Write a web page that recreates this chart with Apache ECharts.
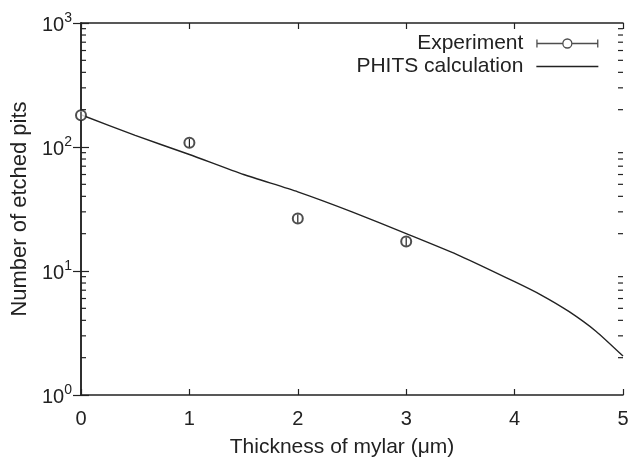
<!DOCTYPE html>
<html>
<head>
<meta charset="utf-8">
<script src="https://cdn.jsdelivr.net/npm/echarts@6/dist/echarts.min.js"></script>
<style>
  html, body { margin: 0; padding: 0; background: #fff; }
  #main { width: 633px; height: 458px; }
</style>
</head>
<body>
<div id="main"></div>
<script>
// experiment points
const expX = [0, 1, 2, 3];
const expY = [180, 108, 26.5, 17.3];
const expErr = [12, 8, 2, 1.3];

// PHITS calculation curve
const calcX = [0, 0.5, 1, 1.5, 2, 2.5, 3, 3.5, 4, 4.25, 4.5, 4.75, 5];
const calcY = [182, 124, 87, 60, 43.5, 30, 20, 13.2, 8.2, 6.37, 4.72, 3.27, 2.06];

const xMin = 0, xMax = 5;
const yMin = 1, yMax = 1000;

const font = 'Liberation Sans, Arial, Helvetica, sans-serif';

// minor log ticks 2..9 in each decade
let minorTicks = [];
for (let d = yMin; d < yMax; d *= 10) {
  for (let k = 2; k <= 9; k++) minorTicks.push([xMin, d * k]);
}

const expData = expX.map((x, i) => [x, expY[i]]);
const errData = expX.map((x, i) => [x, expY[i] - expErr[i], expY[i] + expErr[i]]);
const calcData = calcX.map((x, i) => [x, calcY[i]]);

// legend icons, stroked (62 x 10 box)
const expIcon = 'path://M0.6,1L0.6,9M0.6,5L26.5,5M35.5,5L61.4,5M61.4,1L61.4,9' +
  'M26.5,5A4.5,4.5 0 1,1 35.5,5A4.5,4.5 0 1,1 26.5,5Z M0,0L0,0M62,10L62,10';
const calcIcon = 'path://M0,0L0,0M0,5L62,5M62,10L62,10';

const axisLine = { show: true, lineStyle: { color: '#222', width: 1.5 } };
const tickStyle = { color: '#222', width: 1.2 };

const chart = echarts.init(document.getElementById('main'));
chart.setOption({
  backgroundColor: '#fff',
  animation: false,
  textStyle: { fontFamily: font },
  grid: { left: 81, right: 10, top: 23, bottom: 63, outerBoundsMode: 'none' },
  legend: {
    orient: 'vertical',
    right: 34,
    top: 33,
    padding: 0,
    align: 'right',
    itemWidth: 62,
    itemHeight: 10,
    itemGap: 2,
    textStyle: { fontSize: 21, color: '#222', fontFamily: font, padding: [0, 8, 0, 0] },
    data: [
      { name: 'Experiment', icon: expIcon, itemStyle: { color: '#fff', borderColor: '#222', borderWidth: 1.3 } },
      { name: 'PHITS calculation', icon: calcIcon, itemStyle: { color: '#fff', borderColor: '#222', borderWidth: 1.3 } }
    ]
  },
  xAxis: [{
    type: 'value',
    min: xMin, max: xMax, interval: 1,
    name: 'Thickness of mylar (\u03bcm)',
    nameLocation: 'middle',
    nameGap: 42,
    nameTextStyle: { fontSize: 21, color: '#222', fontFamily: font, padding: [0, 20, 0, 0] },
    axisLine: axisLine,
    axisTick: { inside: true, length: 6, lineStyle: tickStyle },
    axisLabel: { fontSize: 20, color: '#222', margin: 14, fontFamily: font },
    splitLine: { show: false }
  }, {
    type: 'value',
    position: 'top',
    min: xMin, max: xMax, interval: 1,
    axisLine: axisLine,
    axisTick: { inside: true, length: 6, lineStyle: tickStyle },
    axisLabel: { show: false },
    splitLine: { show: false }
  }],
  yAxis: [{
    type: 'log',
    logBase: 10,
    min: yMin, max: yMax,
    name: 'Number of etched pits',
    nameLocation: 'middle',
    nameGap: 50,
    nameTextStyle: { fontSize: 22, color: '#222', fontFamily: font },
    axisLine: axisLine,
    axisTick: { inside: true, length: 8, lineStyle: tickStyle },
    axisLabel: {
      margin: 9,
      color: '#222',
      formatter: function (v) {
        return '{b|10}{s|' + Math.round(Math.log10(v)) + '}';
      },
      rich: {
        b: { fontSize: 20, fontFamily: font, color: '#222', padding: [4, 0, 0, 0] },
        s: { fontSize: 14, fontFamily: font, color: '#222', verticalAlign: 'top' }
      }
    },
    splitLine: { show: false }
  }, {
    type: 'log',
    logBase: 10,
    position: 'right',
    min: yMin, max: yMax,
    axisLine: axisLine,
    axisTick: { inside: true, length: 8, lineStyle: tickStyle },
    axisLabel: { show: false },
    splitLine: { show: false }
  }],
  series: [{
    name: 'minor',
    type: 'custom',
    silent: true,
    data: minorTicks,
    renderItem: function (params, api) {
      const v = api.value(1);
      const l = api.coord([xMin, v]);
      const r = api.coord([xMax, v]);
      const style = { stroke: '#222', lineWidth: 1.2 };
      return {
        type: 'group',
        children: [
          { type: 'line', shape: { x1: l[0], y1: l[1], x2: l[0] + 5, y2: l[1] }, style: style },
          { type: 'line', shape: { x1: r[0], y1: r[1], x2: r[0] - 5, y2: r[1] }, style: style }
        ]
      };
    },
    z: 1
  }, {
    name: 'PHITS calculation',
    type: 'line',
    data: calcData,
    smooth: 0.2,
    symbol: 'none',
    lineStyle: { color: '#222', width: 1.4 },
    itemStyle: { color: '#222' },
    z: 2
  }, {
    name: 'Experiment',
    type: 'scatter',
    data: expData,
    symbol: 'emptyCircle',
    symbolSize: 10,
    itemStyle: { color: '#222', borderColor: '#222', borderWidth: 1.3 },
    z: 3
  }, {
    name: 'Experiment err',
    type: 'custom',
    data: errData,
    encode: { x: 0, y: [1, 2] },
    renderItem: function (params, api) {
      const lo = api.coord([api.value(0), api.value(1)]);
      const hi = api.coord([api.value(0), api.value(2)]);
      return { type: 'line', shape: { x1: lo[0], y1: lo[1], x2: hi[0], y2: hi[1] }, style: { stroke: '#222', lineWidth: 1.2 } };
    },
    z: 4
  }]
});
</script>
</body>
</html>
